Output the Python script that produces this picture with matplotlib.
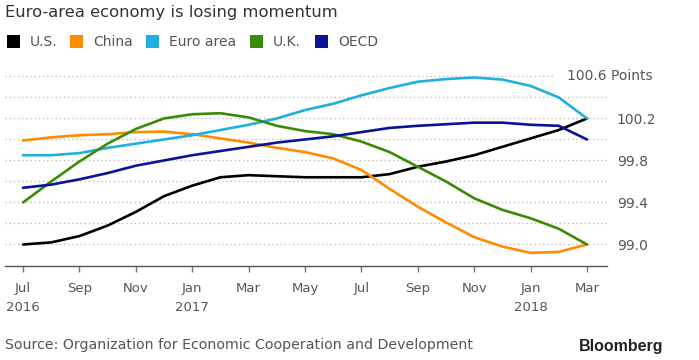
import matplotlib
matplotlib.use("Agg")
import matplotlib.pyplot as plt
from matplotlib.patches import Rectangle
from matplotlib.transforms import blended_transform_factory

# ---- data (monthly, Jul 2016 .. Mar 2018) ----
months = ["Jul 2016", "Aug 2016", "Sep 2016", "Oct 2016", "Nov 2016", "Dec 2016",
          "Jan 2017", "Feb 2017", "Mar 2017", "Apr 2017", "May 2017", "Jun 2017",
          "Jul 2017", "Aug 2017", "Sep 2017", "Oct 2017", "Nov 2017", "Dec 2017",
          "Jan 2018", "Feb 2018", "Mar 2018"]
us = [99.00, 99.02, 99.08, 99.18, 99.31, 99.46, 99.56, 99.64, 99.66, 99.65, 99.64,
      99.64, 99.64, 99.67, 99.74, 99.79, 99.85, 99.93, 100.01, 100.09, 100.20]
china = [99.99, 100.02, 100.04, 100.05, 100.07, 100.075, 100.05, 100.01, 99.97, 99.92, 99.88,
         99.82, 99.71, 99.53, 99.36, 99.21, 99.07, 98.98, 98.92, 98.93, 99.00]
euro = [99.85, 99.85, 99.87, 99.92, 99.96, 100.00, 100.04, 100.09, 100.14, 100.20, 100.28,
        100.34, 100.42, 100.49, 100.55, 100.575, 100.59, 100.57, 100.51, 100.40, 100.20]
uk = [99.40, 99.60, 99.79, 99.96, 100.10, 100.20, 100.24, 100.25, 100.21, 100.13, 100.08,
      100.05, 99.98, 99.88, 99.74, 99.60, 99.44, 99.33, 99.25, 99.15, 99.00]
oecd = [99.54, 99.57, 99.62, 99.68, 99.75, 99.80, 99.85, 99.89, 99.93, 99.97, 100.00,
        100.03, 100.07, 100.11, 100.13, 100.145, 100.16, 100.16, 100.14, 100.13, 100.00]

series_names = ["U.S.", "China", "Euro area", "U.K.", "OECD"]
series_vals = [us, china, euro, uk, oecd]
colors = ["#000000", "#ff8c00", "#1fb0e0", "#3a8c06", "#0a1496"]

tick_idx = [0, 2, 4, 6, 8, 10, 12, 14, 16, 18, 20]
tick_labels = ["Jul\n2016", "Sep", "Nov", "Jan\n2017", "Mar", "May", "Jul", "Sep", "Nov",
               "Jan\n2018", "Mar"]
ytick_vals = [99.0, 99.4, 99.8, 100.2]
grid_vals = [99.0, 99.2, 99.4, 99.6, 99.8, 100.0, 100.2, 100.4, 100.6]

W, H = 699, 360
fig = plt.figure(figsize=(W / 100, H / 100), dpi=100)
fig.patch.set_facecolor("white")

def fx(px):
    return px / W

def fy(py):
    return 1 - py / H

ax_left, ax_right, ax_bottom, ax_top = 5, 607, 265.5, 71.2
ax = fig.add_axes([fx(ax_left), fy(ax_bottom), fx(ax_right - ax_left), (ax_bottom - ax_top) / H])
ax.set_xlim(-0.638, 20.71)
ax.set_ylim(98.80, 100.65)

x = list(range(len(months)))

# gridlines
for g in grid_vals:
    xmax = (553 - ax_left) / (ax_right - ax_left) if g == 100.6 else 1.0
    ax.axhline(g, xmin=0, xmax=xmax, color="#bdbdbd", lw=1.0, ls=(0, (1, 2)), zorder=1)

for vals, c in zip(series_vals, colors):
    ax.plot(x, vals, color=c, lw=1.9, solid_joinstyle="round", solid_capstyle="round", zorder=3)

for s in ["top", "left", "right"]:
    ax.spines[s].set_visible(False)
ax.spines["bottom"].set_color("#555555")
ax.spines["bottom"].set_linewidth(1.0)

ax.set_xticks(tick_idx)
ax.set_xticklabels(tick_labels, fontsize=9.5, color="#555555", linespacing=1.6)
ax.tick_params(axis="x", direction="out", length=4, width=1, color="#777777", pad=8)

ax.yaxis.tick_right()
ax.set_yticks(ytick_vals)
ax.set_yticklabels([f"{v:.1f}" for v in ytick_vals], fontsize=10, color="#555555")
ax.tick_params(axis="y", length=0, pad=7)

trans = blended_transform_factory(fig.transFigure, ax.transData)
ax.text(fx(653), 100.6, "100.6 Points", transform=trans, ha="right", va="center",
        fontsize=10, color="#555555")

# title
fig.text(fx(5), fy(12), "Euro-area economy is losing momentum", ha="left", va="center",
         fontsize=11.8, color="#333333")

# legend
sq_x = [7, 70, 146, 250, 315]
for name, c, sx in zip(series_names, colors, sq_x):
    fig.patches.append(Rectangle((fx(sx), fy(48)), fx(13), 13 / H, transform=fig.transFigure,
                                 facecolor=c, edgecolor="none"))
    fig.text(fx(sx + 23), fy(41.5), name, ha="left", va="center", fontsize=10, color="#555555")

# footer
fig.text(fx(5), fy(345), "Source: Organization for Economic Cooperation and Development",
         ha="left", va="center", fontsize=10.2, color="#555555")
fig.text(fx(663), fy(346), "Bloomberg", ha="right", va="center", fontsize=11.5,
         fontweight="bold", color="#222222", family="Liberation Sans")

fig.savefig("out.png", dpi=100, facecolor="white")
